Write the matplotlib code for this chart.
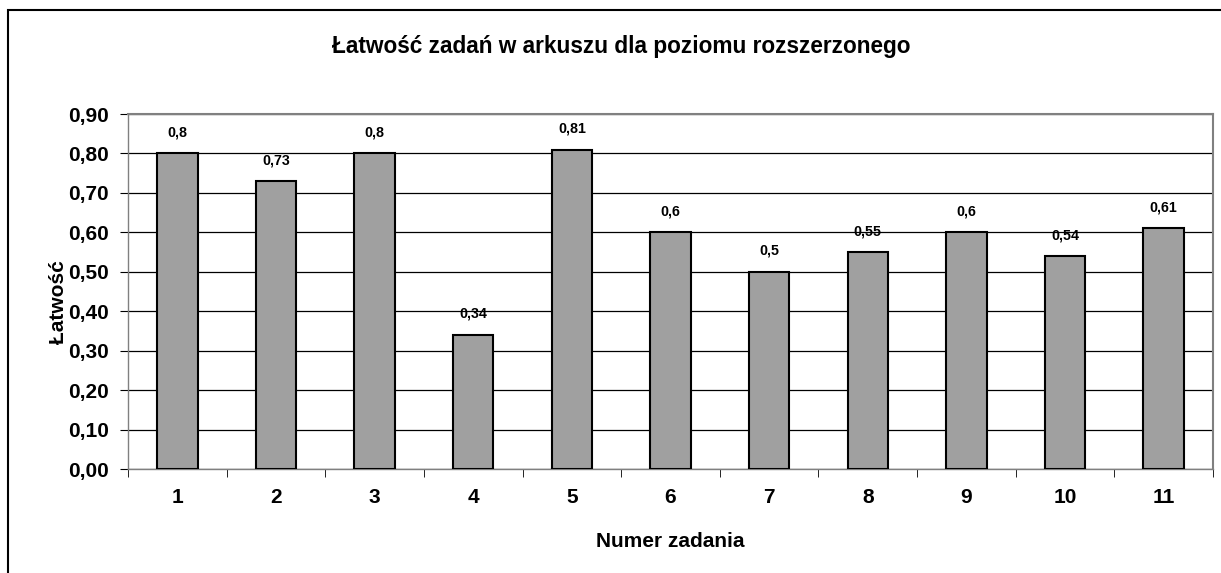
import matplotlib
matplotlib.use("Agg")
import matplotlib.pyplot as plt
from matplotlib.patches import Rectangle

categories = ["1", "2", "3", "4", "5", "6", "7", "8", "9", "10", "11"]
values = [0.80, 0.73, 0.80, 0.34, 0.81, 0.60, 0.50, 0.55, 0.60, 0.54, 0.61]
value_labels = ["0,8", "0,73", "0,8", "0,34", "0,81", "0,6", "0,5", "0,55", "0,6", "0,54", "0,61"]
yticks = [0.0, 0.1, 0.2, 0.3, 0.4, 0.5, 0.6, 0.7, 0.8, 0.9]
ytick_labels = ["0,00", "0,10", "0,20", "0,30", "0,40", "0,50", "0,60", "0,70", "0,80", "0,90"]

plt.rcParams['font.family'] = ['Liberation Sans', 'DejaVu Sans']

W, H = 1221, 573
fig = plt.figure(figsize=(W / 100, H / 100), dpi=100)

# outer chart border (left and top visible)
fig.patches.append(Rectangle((8 / W, -0.1), 1.2, (H - 10) / H + 0.1,
                             transform=fig.transFigure, fill=False,
                             edgecolor='black', linewidth=1.5))

ax = fig.add_axes([128 / W, (H - 469) / H, (1213 - 128) / W, (469 - 114) / H])
x = list(range(len(categories)))
ax.bar(x, values, width=0.41, color='#a0a0a0', edgecolor='black', linewidth=1.5, zorder=3)
ax.set_xlim(-0.5, len(categories) - 0.5)
ax.set_ylim(0, 0.9)
ax.set_yticks(yticks)
ax.set_yticklabels(ytick_labels, fontsize=15, fontweight='bold')
ax.set_xticks(x)
ax.set_xticklabels(categories, fontsize=15, fontweight='bold')
ax.tick_params(axis='x', length=0, pad=13.5)
ax.set_xticks([i + 0.5 for i in range(-1, len(categories))], minor=True)
ax.tick_params(axis='x', which='minor', length=6, direction='out', color='black')
ax.tick_params(axis='y', length=6, direction='out', pad=8)
ax.yaxis.grid(True, color='black', linewidth=0.9, zorder=0)
ax.set_axisbelow(True)
for s in ['top', 'right']:
    ax.spines[s].set_color('#808080')
    ax.spines[s].set_linewidth(1.5)
for s in ['left', 'bottom']:
    ax.spines[s].set_color('#808080')
    ax.spines[s].set_linewidth(1.0)

for xi, v, lab in zip(x, values, value_labels):
    ax.annotate(lab, (xi, v), xytext=(0, 10), textcoords='offset points',
                ha='center', va='bottom', fontsize=10.3, fontweight='bold')

ax.set_xlabel("Numer zadania", fontsize=15, fontweight='bold', labelpad=18.5)
ax.set_ylabel("Łatwość", fontsize=15, fontweight='bold')
ax.yaxis.set_label_coords(-0.055, 0.47)
fig.text(621 / W, (H - 47) / H, "Łatwość zadań w arkuszu dla poziomu rozszerzonego",
         ha='center', va='center', fontsize=16.3, fontweight='bold')

fig.savefig("out.png", dpi=100)
